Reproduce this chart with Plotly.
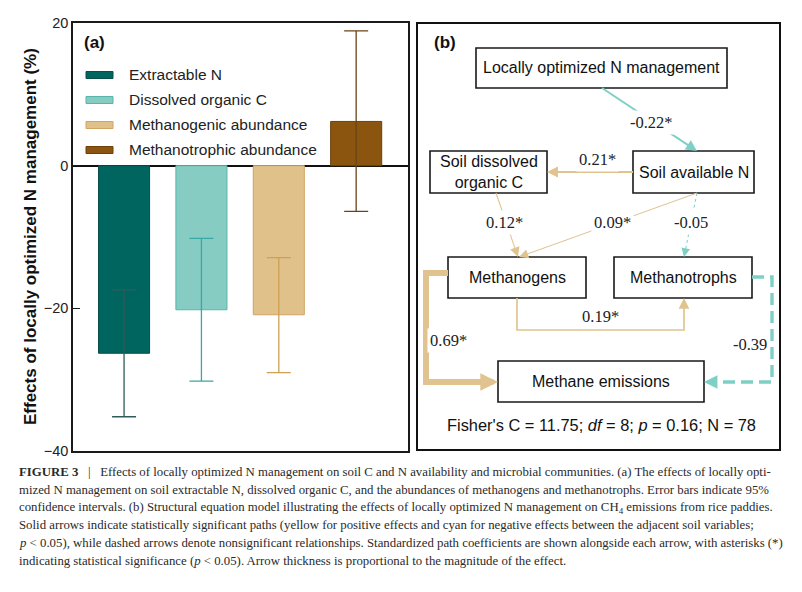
import math
import plotly.graph_objects as go

# page body has an 8px default margin, so the figure is made 8px smaller and coordinates shifted
OFF = 8
W, H = 802 - OFF, 592 - OFF

# ---------------- data: panel (a) ----------------
categories = ["Extractable N", "Dissolved organic C", "Methanogenic abundance", "Methanotrophic abundance"]
effect = [-26.3, -20.2, -20.9, 6.2]
ci_low = [-35.2, -30.2, -29.0, -6.4]
ci_high = [-17.4, -10.2, -12.9, 18.9]
y_ticks = [-40, -20, 0, 20]
y_title = "Effects of locally optimized N management (%)"

# ---------------- data: panel (b) ----------------
node_labels = ["Locally optimized N management", "Soil dissolved<br>organic C", "Soil available N",
               "Methanogens", "Methanotrophs", "Methane emissions"]
path_from = ["Locally optimized N management", "Soil available N", "Soil dissolved<br>organic C",
             "Soil available N", "Soil available N", "Methanogens", "Methanogens", "Methanotrophs"]
path_to = ["Soil available N", "Soil dissolved<br>organic C", "Methanogens", "Methanogens",
           "Methanotrophs", "Methanotrophs", "Methane emissions", "Methane emissions"]
path_coef = [-0.22, 0.21, 0.12, 0.09, -0.05, 0.19, 0.69, -0.39]
path_sig = [True, True, True, True, False, True, True, False]
fisher_c, df_val, p_val, n_obs = 11.75, 8, 0.16, 78

caption_lines = [
    "<b>FIGURE 3</b>   |   Effects of locally optimized N management on soil C and N availability and microbial communities. (a) The effects of locally opti-",
    "mized N management on soil extractable N, dissolved organic C, and the abundances of methanogens and methanotrophs. Error bars indicate 95%",
    "confidence intervals. (b) Structural equation model illustrating the effects of locally optimized N management on CH<sub>4</sub> emissions from rice paddies.",
    "Solid arrows indicate statistically significant paths (yellow for positive effects and cyan for negative effects between the adjacent soil variables;",
    "<i>p</i> < 0.05), while dashed arrows denote nonsignificant relationships. Standardized path coefficients are shown alongside each arrow, with asterisks (*)",
    "indicating statistical significance (<i>p</i> < 0.05). Arrow thickness is proportional to the magnitude of the effect.",
]

# ---------------- styles / layout geometry (reference pixel coordinates) ----------------
bar_colors = ["#00645f", "#86ccc2", "#dfc189", "#8b540f"]
edge_colors = ["#0b4d49", "#56b5ab", "#cfa564", "#6e410a"]
err_colors = ["#2f5c58", "#3aa7a6", "#cf9f55", "#6b4318"]
POS, NEG = "#e0c38e", "#7ecfc5"
SANS = "Liberation Sans, Arial"
SERIF = "Liberation Serif, Times New Roman"

node_box = {
    "Locally optimized N management": (476, 48, 727, 88),
    "Soil dissolved<br>organic C": (430, 151, 547, 193),
    "Soil available N": (633, 151, 754, 193),
    "Methanogens": (448, 257, 586, 298),
    "Methanotrophs": (614, 257, 752, 298),
    "Methane emissions": (498, 361, 704, 402),
}
path_geom = [
    ([(602, 88), (697, 151)], (651, 122)),
    ([(633, 172), (547, 172)], (597, 159)),
    ([(496, 193), (518, 257)], (505, 223)),
    ([(697, 193), (519, 257)], (612, 223)),
    ([(697, 193), (684, 257)], (691, 223)),
    ([(517, 298), (517, 330), (684, 330), (684, 298)], (600, 317)),
    ([(448, 273), (426, 273), (426, 382), (498, 382)], (449, 340)),
    ([(752, 277), (772, 277), (772, 382), (704, 382)], (750, 344)),
]


def px(x):
    return (x - OFF) / W


def py(y):
    return 1 - (y - OFF) / H


fig = go.Figure()

for i, cat in enumerate(categories):
    fig.add_trace(go.Bar(
        x=[cat], y=[effect[i]], width=0.66,
        marker=dict(color=bar_colors[i], line=dict(color=edge_colors[i], width=1)),
        error_y=dict(type="data", symmetric=False,
                     array=[ci_high[i] - effect[i]], arrayminus=[effect[i] - ci_low[i]],
                     color=err_colors[i], thickness=1.3, width=12),
        showlegend=False, hoverinfo="skip",
    ))

shapes = []
annotations = []

# manual legend (panel a)
for i, cat in enumerate(categories):
    yc = 75 + 25 * i
    shapes.append(dict(type="rect", xref="paper", yref="paper",
                       x0=px(86), x1=px(113), y0=py(yc + 3.5), y1=py(yc - 3.5),
                       fillcolor=bar_colors[i], line=dict(color=edge_colors[i], width=1)))
    annotations.append(dict(xref="paper", yref="paper", x=px(127), y=py(yc), text=cat,
                            showarrow=False, xanchor="left", yanchor="middle",
                            font=dict(family=SANS, size=15.5, color="#222")))

annotations.append(dict(xref="paper", yref="paper", x=px(82), y=py(43), text="<b>(a)</b>",
                        showarrow=False, xanchor="left", yanchor="middle",
                        font=dict(family=SANS, size=17, color="#111")))
annotations.append(dict(xref="paper", yref="paper", x=px(31), y=py(237), text="<b>" + y_title + "</b>",
                        textangle=-90, showarrow=False, xanchor="center", yanchor="middle",
                        font=dict(family=SANS, size=17, color="#111")))

# panel (b) frame
shapes.append(dict(type="rect", xref="paper", yref="paper", x0=px(417), x1=px(780), y0=py(450), y1=py(23),
                   line=dict(color="#111", width=2), fillcolor="rgba(0,0,0,0)"))
annotations.append(dict(xref="paper", yref="paper", x=px(432), y=py(43), text="<b>(b)</b>",
                        showarrow=False, xanchor="left", yanchor="middle",
                        font=dict(family=SANS, size=17, color="#111")))

# nodes
for lab in node_labels:
    x0, y0, x1, y1 = node_box[lab]
    shapes.append(dict(type="rect", xref="paper", yref="paper", x0=px(x0), x1=px(x1), y0=py(y1), y1=py(y0),
                       line=dict(color="#1a1a1a", width=1.6), fillcolor="white", layer="below"))
    annotations.append(dict(xref="paper", yref="paper", x=px((x0 + x1) / 2), y=py((y0 + y1) / 2), text=lab,
                            showarrow=False, xanchor="center", yanchor="middle",
                            font=dict(family=SANS, size=16, color="#111")))

# paths
label_anns = []
for k, coef in enumerate(path_coef):
    pts, lab_pos = path_geom[k]
    col = POS if coef > 0 else NEG
    w = max(1.0, 8.7 * abs(coef))
    headlen = 8 + 14 * abs(coef)
    dash = "solid" if path_sig[k] else ("dot" if abs(coef) < 0.1 else "12px,6px")
    (xa, ya), (xb, yb) = pts[-2], pts[-1]
    L = math.hypot(xb - xa, yb - ya)
    ux, uy = (xb - xa) / L, (yb - ya) / L
    end_short = (xb - ux * headlen * 0.8, yb - uy * headlen * 0.8)
    line_pts = pts[:-1] + [end_short]
    path = "M " + " L ".join(f"{px(x):.5f},{py(y):.5f}" for x, y in line_pts)
    shapes.append(dict(type="path", xref="paper", yref="paper", path=path,
                       line=dict(color=col, width=w, dash=dash), layer="above"))
    tail = (xb - ux * (headlen + 1), yb - uy * (headlen + 1))
    annotations.append(dict(xref="paper", yref="paper", x=px(xb), y=py(yb), axref="pixel", ayref="pixel",
                            ax=tail[0] - xb, ay=tail[1] - yb, text="", showarrow=True,
                            arrowhead=2, arrowsize=headlen / (5 * w), arrowwidth=w, arrowcolor=col,
                            standoff=0, startstandoff=0))
    txt = f"{coef:.2f}" + ("*" if path_sig[k] else "")
    label_anns.append(dict(xref="paper", yref="paper", x=px(lab_pos[0]), y=py(lab_pos[1]), text=txt,
                           showarrow=False, xanchor="center", yanchor="middle", bgcolor="white", borderpad=2,
                           font=dict(family=SERIF, size=16.5, color="#222")))
annotations += label_anns

annotations.append(dict(xref="paper", yref="paper", x=px(601), y=py(425),
                        text=f"Fisher's C = {fisher_c:.2f}; <i>df</i> = {df_val}; <i>p</i> = {p_val:.2f}; N = {n_obs}",
                        showarrow=False, xanchor="center", yanchor="middle",
                        font=dict(family=SANS, size=16.4, color="#111")))

# caption
for i, line in enumerate(caption_lines):
    annotations.append(dict(xref="paper", yref="paper", x=px(17), y=py(472 + 17.8 * i), text=line,
                            showarrow=False, xanchor="left", yanchor="middle",
                            font=dict(family=SERIF, size=12.8, color="#2a2a2a")))

fig.update_layout(
    width=W, height=H, autosize=False,
    margin=dict(l=0, r=0, t=0, b=0),
    paper_bgcolor="white", plot_bgcolor="white",
    barmode="overlay",
    xaxis=dict(domain=[px(73), px(408)], range=[-0.66, 3.67], showticklabels=False, ticks="",
               showline=True, mirror=True, linecolor="#1a1a1a", linewidth=1.5, showgrid=False,
               zeroline=False, automargin=False),
    yaxis=dict(domain=[py(451), py(23)], range=[-40, 20], tickvals=y_ticks, ticks="inside", ticklen=7,
               tickcolor="#1a1a1a", showline=True, mirror=True, linecolor="#1a1a1a", linewidth=1.5,
               showgrid=False, zeroline=True, zerolinecolor="#111", zerolinewidth=1.5,
               tickfont=dict(family=SANS, size=14.5, color="#222"), automargin=False),
    shapes=shapes,
    annotations=annotations,
)

fig.write_html("out.html")
